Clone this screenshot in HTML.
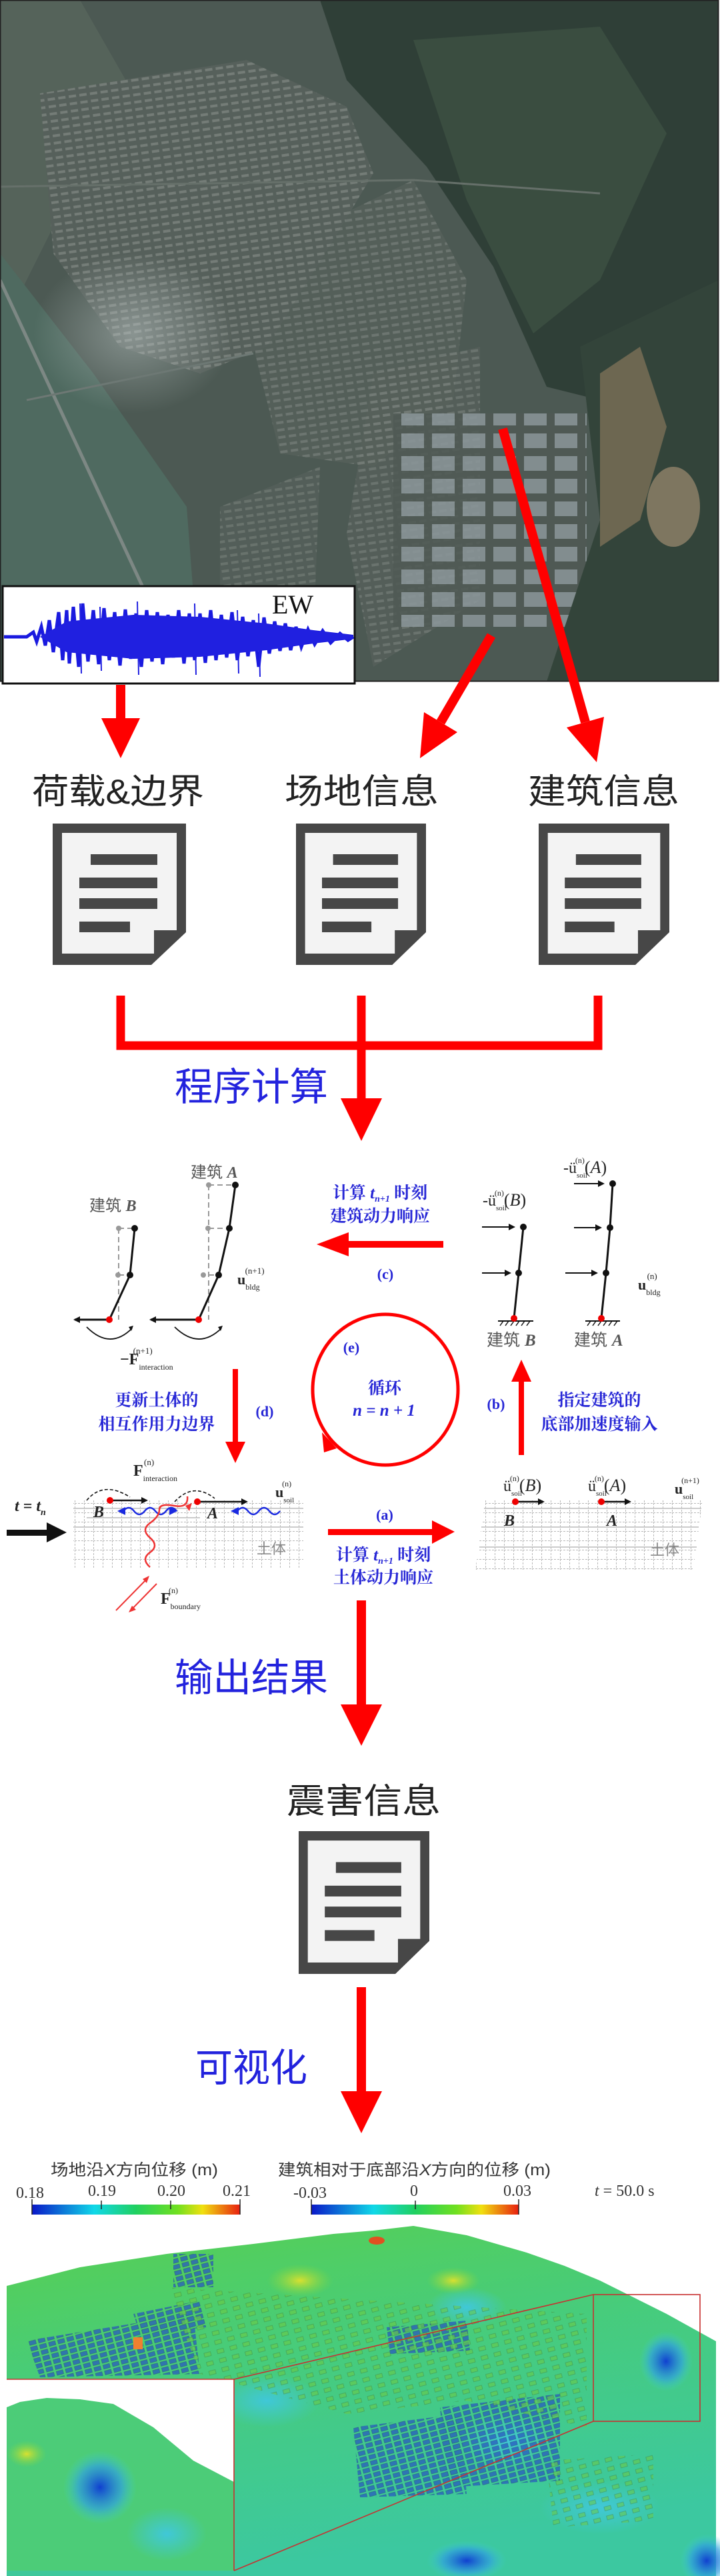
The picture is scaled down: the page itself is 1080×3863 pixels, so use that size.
<!DOCTYPE html>
<html><head><meta charset="utf-8"><style>
html,body{margin:0;padding:0;background:#fff;}
svg{display:block;}
.cn{font-family:"Liberation Sans","Noto Sans CJK SC",sans-serif;}
.bl{font-family:"Liberation Serif","Noto Serif CJK SC","Noto Sans CJK SC",serif;fill:#2626d6;font-weight:bold;}
.m{font-family:"Liberation Serif",serif;fill:#222;}
</style></head><body>
<svg width="1080" height="3863" viewBox="0 0 1080 3863" xmlns="http://www.w3.org/2000/svg">
<defs>
 <pattern id="city" width="16" height="11" patternUnits="userSpaceOnUse" patternTransform="rotate(-8)">
  <rect width="16" height="11" fill="#56605b"/>
  <rect x="2" y="2" width="11" height="4" fill="#747c77"/>
 </pattern>
 <pattern id="ind" width="46" height="34" patternUnits="userSpaceOnUse">
  <rect width="46" height="34" fill="#4f5954"/>
  <rect x="4" y="4" width="34" height="22" fill="#8b969a"/>
 </pattern>
 <radialGradient id="haze"><stop offset="0" stop-color="#c9d3d3" stop-opacity="0.45"/><stop offset="1" stop-color="#c9d3d3" stop-opacity="0"/></radialGradient>
 <linearGradient id="cbar" x1="0" x2="1" y1="0" y2="0">
  <stop offset="0" stop-color="#0a18c8"/><stop offset="0.3" stop-color="#10d8e8"/><stop offset="0.5" stop-color="#20d060"/><stop offset="0.7" stop-color="#70e020"/><stop offset="0.82" stop-color="#f0e010"/><stop offset="1" stop-color="#e82010"/>
 </linearGradient>
 <linearGradient id="terr" x1="0" y1="0" x2="0.3" y2="1">
  <stop offset="0" stop-color="#58d050"/><stop offset="0.4" stop-color="#48cc78"/><stop offset="1" stop-color="#3cc8a0"/>
 </linearGradient>
 <radialGradient id="bb"><stop offset="0" stop-color="#1040d0"/><stop offset="0.6" stop-color="#30a0e0" stop-opacity="0.7"/><stop offset="1" stop-color="#40d0d0" stop-opacity="0"/></radialGradient>
 <radialGradient id="yb"><stop offset="0" stop-color="#d8e030"/><stop offset="1" stop-color="#80d840" stop-opacity="0"/></radialGradient>
 <radialGradient id="cb"><stop offset="0" stop-color="#40c8d8"/><stop offset="1" stop-color="#40c8d8" stop-opacity="0"/></radialGradient>
 <pattern id="bldB" width="14" height="9" patternUnits="userSpaceOnUse" patternTransform="rotate(-15)">
  <rect width="14" height="9" fill="none"/><rect x="1" y="1" width="10" height="6" fill="#2858c0" stroke="#204080" stroke-width="0.6"/>
 </pattern>
 <pattern id="bldG" width="20" height="14" patternUnits="userSpaceOnUse" patternTransform="rotate(-15)">
  <rect width="20" height="14" fill="none"/><rect x="2" y="2" width="10" height="6" fill="#70c840" stroke="#3a6a30" stroke-width="0.6"/>
 </pattern>
 <pattern id="grid" width="14" height="14" patternUnits="userSpaceOnUse">
  <path d="M0 0.5H14M0.5 0V14" stroke="#b8b8b8" stroke-width="1" stroke-dasharray="3 2" fill="none"/>
 </pattern>
 <g id="doc">
  <polygon points="0,0 200,0 200,163 148,212 0,212" fill="#474747"/>
  <polygon points="14,14 186,14 186,160 152,160 152,195 14,195" fill="#f3f3f3"/>
  <rect x="57" y="46" width="100" height="16" fill="#474747"/>
  <rect x="40" y="81" width="117" height="16" fill="#474747"/>
  <rect x="40" y="112" width="117" height="16" fill="#474747"/>
  <rect x="40" y="147" width="76" height="16" fill="#474747"/>
 </g>
</defs>

<!-- Satellite -->
<rect x="0" y="0" width="1078" height="1022" fill="#4c5953"/>
<polygon points="0,0 120,0 200,140 100,300 0,500" fill="#55635a"/>
<polygon points="0,380 140,560 280,760 300,1022 0,1022" fill="#4f6a60"/>
<polygon points="60,140 370,90 520,160 560,260 500,360 400,520 300,560 180,520 80,380" fill="url(#city)"/>
<polygon points="350,400 620,270 700,420 680,600 560,700 420,680" fill="url(#city)" opacity="0.8"/>
<polygon points="560,560 720,520 720,900 560,1000 520,800" fill="url(#city)" opacity="0.75"/>
<polygon points="330,760 480,700 470,960 380,1000 330,900" fill="url(#city)" opacity="0.7"/>
<rect x="590" y="620" width="290" height="320" fill="url(#ind)" opacity="0.85"/>
<polygon points="480,0 1078,0 1078,480 900,600 820,580 740,400 640,250 520,120" fill="#2f3f37"/>
<polygon points="620,60 900,40 1000,200 900,420 800,500 700,300" fill="#3a4d40"/>
<polygon points="870,520 1078,420 1078,1022 820,1022 900,780" fill="#33443a"/>
<polygon points="900,560 960,520 1000,640 960,780 900,820" fill="#a88a68" opacity="0.5"/>
<ellipse cx="1010" cy="760" rx="40" ry="60" fill="#b0987a" opacity="0.6"/>
<ellipse cx="200" cy="500" rx="150" ry="120" fill="url(#haze)"/>
<path d="M0 420 L280 1022" stroke="#7d8884" stroke-width="5"/>
<path d="M40 600 L380 530" stroke="#6d7874" stroke-width="3"/>
<path d="M0 280 L620 270 L900 290" stroke="#66706a" stroke-width="3" fill="none"/>
<rect x="0.5" y="0.5" width="1077" height="1021" fill="none" stroke="#222" stroke-width="2"/>

<!-- EW waveform box -->
<rect x="4" y="879" width="528" height="146" fill="#fff" stroke="#111" stroke-width="3"/>
<path d="M6 955 L40 955 L50 948 L55 962 L62 940 L68 968 L74 930 L80 978 L88 918 L94 990 L100 915 L104 995 L110 910 L118 1000 L124 905 L132 992 L140 915 L148 996 L156 912 L164 990 L172 918 L180 998 L188 914 L196 988 L204 920 L212 1000 L220 915 L228 992 L236 918 L244 996 L252 922 L260 986 L268 915 L276 995 L284 920 L292 990 L300 920 L308 994 L316 915 L324 990 L332 922 L340 986 L348 918 L356 990 L364 925 L372 984 L380 930 L388 1000 L396 926 L404 980 L412 932 L420 976 L428 935 L436 975 L444 940 L452 970 L462 944 L472 966 L484 946 L496 964 L510 950 L522 960 L530 955" stroke="#1a1adf" stroke-width="5" fill="none"/>
<path d="M60 955 L100 932 L200 922 L300 925 L400 935 L470 945 L530 952 L530 958 L470 965 L400 975 L300 985 L200 988 L100 978 L60 955Z" fill="#2020e0"/>
<path d="M120 905 L122 1010 M206 902 L208 1012 M292 905 L294 1012 M356 915 L358 1010 M388 920 L390 1015 M150 910 L152 1006" stroke="#2020e0" stroke-width="2"/>
<text x="408" y="920" font-family="Liberation Serif,serif" font-size="40" fill="#111">EW</text>

<!-- Top arrows -->
<g fill="#f00" stroke="none">
 <rect x="174" y="1027" width="14" height="52"/>
 <polygon points="152,1077 210,1077 181,1137"/>
 <polygon points="686,1098 636,1068 630,1137"/>
 <polygon points="906,1075 850,1091 895,1143"/>
</g>
<line x1="737" y1="953" x2="661" y2="1083" stroke="#f00" stroke-width="14"/>
<line x1="754" y1="643" x2="878" y2="1083" stroke="#f00" stroke-width="14"/>

<!-- labels -->
<g class="cn" font-size="52" fill="#222">
 <text x="48" y="1205" textLength="258" lengthAdjust="spacingAndGlyphs">荷载&amp;边界</text>
 <text x="427" y="1205" textLength="231" lengthAdjust="spacingAndGlyphs">场地信息</text>
 <text x="792" y="1205" textLength="227" lengthAdjust="spacingAndGlyphs">建筑信息</text>
</g>
<use href="#doc" transform="translate(79,1235)"/>
<use href="#doc" transform="translate(444,1235) scale(0.975,1)"/>
<use href="#doc" transform="translate(808,1235) scale(0.98,1)"/>

<!-- bracket -->
<g stroke="#f00" stroke-width="13" fill="none">
 <path d="M181 1493 V1568 H897 V1493"/>
 <path d="M542 1493 V1650"/>
</g>
<polygon points="511,1647 573,1647 542,1711" fill="#f00"/>
<text class="cn" x="262" y="1650" font-size="58" fill="#2222dd" textLength="230" lengthAdjust="spacingAndGlyphs">程序计算</text>

<!-- Loop diagram: left buildings -->
<g class="cn" font-size="24" fill="#555">
 <text x="134" y="1816">建筑 <tspan font-family="Liberation Serif,serif" font-style="italic" font-weight="bold">B</tspan></text>
 <text x="286" y="1766">建筑 <tspan font-family="Liberation Serif,serif" font-style="italic" font-weight="bold">A</tspan></text>
</g>
<g stroke="#999" stroke-width="2" stroke-dasharray="8 5" fill="none">
 <path d="M178 1842 V1979"/><path d="M313 1777 V1979"/>
 <path d="M178 1842 H202 M178 1912 H195 M313 1777 H353 M313 1842 H344 M313 1912 H328"/>
</g>
<g fill="#999"><circle cx="178" cy="1842" r="4"/><circle cx="177" cy="1912" r="4"/><circle cx="313" cy="1777" r="4"/><circle cx="312" cy="1842" r="4"/><circle cx="305" cy="1912" r="4"/></g>
<g stroke="#111" stroke-width="3" fill="none">
 <path d="M202 1842 L195 1912 L164 1979"/>
 <path d="M353 1777 L344 1842 L328 1912 L298 1979"/>
 <path d="M164 1979 H112 M298 1979 H226"/>
 <path d="M130 1990 Q165 2025 198 1992" stroke-width="1.8"/>
 <path d="M262 1990 Q298 2025 332 1992" stroke-width="1.8"/>
</g>
<g fill="#111"><circle cx="202" cy="1842" r="5"/><circle cx="195" cy="1912" r="5"/><circle cx="353" cy="1777" r="5"/><circle cx="344" cy="1842" r="5"/><circle cx="328" cy="1912" r="5"/>
 <polygon points="110,1979 120,1974 120,1984"/><polygon points="224,1979 234,1974 234,1984"/>
 <polygon points="200,1988 193,1990 197,1996"/><polygon points="334,1988 327,1990 331,1996"/></g>
<g fill="#e00"><circle cx="164" cy="1979" r="5"/><circle cx="298" cy="1979" r="5"/></g>
<text class="m" x="356" y="1926" font-size="22" font-weight="bold">u<tspan font-size="12" dy="8" font-weight="normal">bldg</tspan><tspan font-size="13" dx="-22" dy="-24" font-weight="normal">(n+1)</tspan></text>
<text class="m" x="180" y="2046" font-size="24" font-weight="bold">−F<tspan font-size="12" dy="8" font-weight="normal">interaction</tspan><tspan font-size="13" dx="-60" dy="-24" font-weight="normal">(n+1)</tspan></text>

<!-- (c) -->
<text class="bl" x="570" y="1797" font-size="25" text-anchor="middle">计算 <tspan font-style="italic">t</tspan><tspan font-size="14" dy="5" font-style="italic">n+1</tspan><tspan dy="-5"> 时刻</tspan></text>
<text class="bl" x="570" y="1832" font-size="25" text-anchor="middle">建筑动力响应</text>
<rect x="521" y="1861" width="144" height="10" fill="#f00"/>
<polygon points="523,1848 523,1884 475,1866" fill="#f00"/>
<text class="bl" x="578" y="1918" font-size="22" text-anchor="middle">(c)</text>

<!-- right buildings -->
<g stroke="#111" stroke-width="3" fill="none">
 <path d="M785 1840 L778 1909 L771 1977"/>
 <path d="M919 1775 L915 1841 L909 1909 L902 1977"/>
 <path d="M723 1840 H766 M723 1909 H760 M861 1775 H900 M861 1841 H896 M848 1909 H890" stroke-width="2"/>
 <path d="M747 1981 H800 M878 1981 H930" stroke-width="2"/>
 <path d="M750 1988 l5 -7 M758 1988 l5 -7 M766 1988 l5 -7 M774 1988 l5 -7 M782 1988 l5 -7 M790 1988 l5 -7 M881 1988 l5 -7 M889 1988 l5 -7 M897 1988 l5 -7 M905 1988 l5 -7 M913 1988 l5 -7 M921 1988 l5 -7" stroke-width="1.5"/>
</g>
<g fill="#111">
 <circle cx="785" cy="1840" r="5"/><circle cx="778" cy="1909" r="5"/><circle cx="919" cy="1775" r="5"/><circle cx="915" cy="1841" r="5"/><circle cx="909" cy="1909" r="5"/>
 <polygon points="773,1840 763,1835 763,1845"/><polygon points="767,1909 757,1904 757,1914"/><polygon points="907,1775 897,1770 897,1780"/><polygon points="903,1841 893,1836 893,1846"/><polygon points="897,1909 887,1904 887,1914"/>
</g>
<g fill="#e00"><circle cx="771" cy="1977" r="5"/><circle cx="902" cy="1977" r="5"/></g>
<text class="m" x="724" y="1808" font-size="24">-ü<tspan font-size="11" dy="7">soil</tspan><tspan font-size="12" dx="-18" dy="-22">(n)</tspan><tspan dy="15" font-size="26">(<tspan font-style="italic">B</tspan>)</tspan></text>
<text class="m" x="845" y="1759" font-size="24">-ü<tspan font-size="11" dy="7">soil</tspan><tspan font-size="12" dx="-18" dy="-22">(n)</tspan><tspan dy="15" font-size="26">(<tspan font-style="italic">A</tspan>)</tspan></text>
<text class="m" x="957" y="1934" font-size="22" font-weight="bold">u<tspan font-size="12" dy="8" font-weight="normal">bldg</tspan><tspan font-size="13" dx="-20" dy="-24" font-weight="normal">(n)</tspan></text>
<g class="cn" font-size="25" fill="#555">
 <text x="730" y="2018">建筑 <tspan font-family="Liberation Serif,serif" font-style="italic" font-weight="bold">B</tspan></text>
 <text x="861" y="2018">建筑 <tspan font-family="Liberation Serif,serif" font-style="italic" font-weight="bold">A</tspan></text>
</g>

<!-- circle (e) -->
<ellipse cx="578" cy="2084" rx="109" ry="113" fill="none" stroke="#f00" stroke-width="5"/>
<polygon points="483,2148 505,2172 486,2178" fill="#f00"/>
<text class="bl" x="527" y="2028" font-size="22" text-anchor="middle">(e)</text>
<text class="bl" x="577" y="2090" font-size="25" text-anchor="middle">循环</text>
<text class="bl" x="576" y="2123" font-size="25" text-anchor="middle" font-style="italic">n = n + 1</text>

<!-- (d) -->
<rect x="349" y="2053" width="8" height="112" fill="#f00"/>
<polygon points="338,2162 368,2162 353,2194" fill="#f00"/>
<text class="bl" x="235" y="2108" font-size="25" text-anchor="middle">更新土体的</text>
<text class="bl" x="235" y="2144" font-size="25" text-anchor="middle">相互作用力边界</text>
<text class="bl" x="397" y="2124" font-size="22" text-anchor="middle">(d)</text>

<!-- (b) -->
<rect x="778" y="2070" width="8" height="112" fill="#f00"/>
<polygon points="767,2072 797,2072 782,2039" fill="#f00"/>
<text class="bl" x="744" y="2113" font-size="22" text-anchor="middle">(b)</text>
<text class="bl" x="899" y="2108" font-size="25" text-anchor="middle">指定建筑的</text>
<text class="bl" x="899" y="2144" font-size="25" text-anchor="middle">底部加速度输入</text>

<!-- left soil -->
<rect x="110" y="2249" width="345" height="103" fill="url(#grid)"/>
<path d="M110 2262 H455 M110 2290 H455 M130 2276 H300" stroke="#bbb" stroke-width="1.5"/>
<text class="cn" x="385" y="2330" font-size="22" fill="#888">土体</text>
<text class="m" x="22" y="2266" font-size="24" font-style="italic" font-weight="bold">t = t<tspan font-size="14" dy="6">n</tspan></text>
<rect x="10" y="2294" width="62" height="9" fill="#111"/>
<polygon points="70,2283 70,2313 100,2298" fill="#111"/>
<text class="m" x="200" y="2213" font-size="24" font-weight="bold">F<tspan font-size="12" dy="8" font-weight="normal">interaction</tspan><tspan font-size="13" dx="-50" dy="-24" font-weight="normal">(n)</tspan></text>
<text class="m" x="413" y="2245" font-size="22" font-weight="bold">u<tspan font-size="11" dy="8" font-weight="normal">soil</tspan><tspan font-size="12" dx="-18" dy="-24" font-weight="normal">(n)</tspan></text>
<g stroke="#111" stroke-width="1.6" fill="none" stroke-dasharray="5 3">
 <path d="M130 2250 Q155 2220 195 2245"/><path d="M262 2252 Q290 2222 322 2247"/>
</g>
<g stroke="#111" stroke-width="2.5"><path d="M165 2250 H218 M296 2252 H368"/></g>
<g fill="#111"><polygon points="222,2250 212,2245 212,2255"/><polygon points="372,2252 362,2247 362,2257"/></g>
<g fill="#e00"><circle cx="165" cy="2250" r="5"/><circle cx="296" cy="2252" r="5"/></g>
<text class="m" x="140" y="2275" font-size="24" font-style="italic" font-weight="bold">B</text>
<text class="m" x="311" y="2277" font-size="24" font-style="italic" font-weight="bold">A</text>
<path d="M185 2266 q8 -10 16 0 t16 0 t16 0 t16 0 t16 0" stroke="#1a2ae0" stroke-width="2.5" fill="none"/>
<polygon points="176,2266 188,2260 188,2272" fill="#1a2ae0"/><polygon points="266,2266 254,2260 254,2272" fill="#1a2ae0"/>
<path d="M356 2266 q8 -10 16 0 t16 0 t16 0 t16 0" stroke="#1a2ae0" stroke-width="2.5" fill="none"/>
<polygon points="346,2266 358,2260 358,2272" fill="#1a2ae0"/>
<path d="M225 2350 q-14 -12 0 -22 t0 -22 t0 -22 t14 -20 t22 -6 t20 -14" stroke="#e33" stroke-width="2.5" fill="none"/>
<polygon points="288,2254 278,2258 284,2266" fill="#e33"/>
<path d="M174 2415 L222 2366" stroke="#e33" stroke-width="2"/><polygon points="224,2363 214,2368 220,2374" fill="#e33"/>
<path d="M235 2375 L195 2416" stroke="#e33" stroke-width="2"/><polygon points="193,2418 198,2408 204,2414" fill="#e33"/>
<text class="m" x="241" y="2405" font-size="24" font-weight="bold">F<tspan font-size="12" dy="8" font-weight="normal">boundary</tspan><tspan font-size="12" dx="-48" dy="-24" font-weight="normal">(n)</tspan></text>

<!-- (a) -->
<rect x="492" y="2293" width="158" height="9" fill="#f00"/>
<polygon points="648,2280 648,2315 682,2297" fill="#f00"/>
<text class="bl" x="577" y="2279" font-size="22" text-anchor="middle">(a)</text>
<text class="bl" x="575" y="2340" font-size="25" text-anchor="middle">计算 <tspan font-style="italic">t</tspan><tspan font-size="14" dy="5" font-style="italic">n+1</tspan><tspan dy="-5"> 时刻</tspan></text>
<text class="bl" x="575" y="2374" font-size="25" text-anchor="middle">土体动力响应</text>

<!-- right soil -->
<polygon points="728,2249 1054,2249 1040,2354 713,2354" fill="url(#grid)"/>
<path d="M726 2262 H1052 M722 2290 H1048 M719 2320 H1045" stroke="#bbb" stroke-width="1.5"/>
<text class="cn" x="975" y="2332" font-size="22" fill="#888">土体</text>
<g stroke="#111" stroke-width="2.5"><path d="M773 2252 H812 M902 2252 H942"/></g>
<g fill="#111"><polygon points="817,2252 807,2247 807,2257"/><polygon points="947,2252 937,2247 937,2257"/></g>
<g fill="#e00"><circle cx="773" cy="2252" r="5"/><circle cx="902" cy="2252" r="5"/></g>
<text class="m" x="755" y="2236" font-size="24">ü<tspan font-size="11" dy="7">soil</tspan><tspan font-size="12" dx="-18" dy="-22">(n)</tspan><tspan dy="15" font-size="26">(<tspan font-style="italic">B</tspan>)</tspan></text>
<text class="m" x="882" y="2236" font-size="24">ü<tspan font-size="11" dy="7">soil</tspan><tspan font-size="12" dx="-18" dy="-22">(n)</tspan><tspan dy="15" font-size="26">(<tspan font-style="italic">A</tspan>)</tspan></text>
<text class="m" x="1012" y="2240" font-size="22" font-weight="bold">u<tspan font-size="11" dy="8" font-weight="normal">soil</tspan><tspan font-size="12" dx="-18" dy="-24" font-weight="normal">(n+1)</tspan></text>
<text class="m" x="756" y="2288" font-size="24" font-style="italic" font-weight="bold">B</text>
<text class="m" x="910" y="2288" font-size="24" font-style="italic" font-weight="bold">A</text>

<!-- output arrow -->
<rect x="535" y="2400" width="14" height="158" fill="#f00"/>
<polygon points="511,2556 573,2556 542,2618" fill="#f00"/>
<text class="cn" x="262" y="2536" font-size="58" fill="#2222dd" textLength="230" lengthAdjust="spacingAndGlyphs">输出结果</text>
<text class="cn" x="430" y="2719" font-size="52" fill="#222" textLength="231" lengthAdjust="spacingAndGlyphs">震害信息</text>
<use href="#doc" transform="translate(448,2746) scale(0.98,1.01)"/>
<rect x="535" y="2980" width="14" height="158" fill="#f00"/>
<polygon points="511,3136 573,3136 542,3199" fill="#f00"/>
<text class="cn" x="293" y="3121" font-size="58" fill="#2222dd" textLength="168" lengthAdjust="spacingAndGlyphs">可视化</text>

<!-- colorbars -->
<g class="cn" font-size="24" fill="#333">
 <text x="76" y="3262" textLength="251" lengthAdjust="spacingAndGlyphs">场地沿<tspan font-style="italic">X</tspan>方向位移 (m)</text>
 <text x="417" y="3262" textLength="409" lengthAdjust="spacingAndGlyphs">建筑相对于底部沿<tspan font-style="italic">X</tspan>方向的位移 (m)</text>
</g>
<g font-family="Liberation Serif,serif" font-size="24" fill="#333">
 <text x="24" y="3296">0.18</text><text x="132" y="3293">0.19</text><text x="236" y="3293">0.20</text><text x="334" y="3293">0.21</text>
 <text x="440" y="3296">-0.03</text><text x="615" y="3293">0</text><text x="755" y="3293">0.03</text>
 <text x="892" y="3293"><tspan font-style="italic">t</tspan> = 50.0 s</text>
</g>
<rect x="48" y="3306" width="312" height="15" fill="url(#cbar)"/>
<rect x="467" y="3306" width="311" height="15" fill="url(#cbar)"/>
<g stroke="#222" stroke-width="1.5"><path d="M48 3298 V3321 M152 3300 V3313 M256 3300 V3313 M360 3298 V3321 M467 3298 V3321 M623 3300 V3313 M778 3298 V3321"/></g>

<!-- 3D terrain -->
<polygon points="10,3428 120,3400 250,3380 380,3365 500,3350 560,3345 620,3338 700,3352 790,3378 847,3398 900,3420 1000,3470 1074,3511 1074,3863 10,3863" fill="url(#terr)"/>
<g>
 <ellipse cx="565" cy="3360" rx="12" ry="6" fill="#e05020"/>
 <ellipse cx="999" cy="3541" rx="40" ry="45" fill="url(#bb)"/>
 <ellipse cx="700" cy="3460" rx="60" ry="30" fill="url(#cb)"/>
 <ellipse cx="450" cy="3420" rx="50" ry="25" fill="url(#yb)"/>
 <ellipse cx="680" cy="3420" rx="40" ry="20" fill="url(#yb)"/>
 <ellipse cx="400" cy="3600" rx="80" ry="40" fill="url(#cb)"/>
 <ellipse cx="760" cy="3660" rx="70" ry="40" fill="url(#cb)"/>
 <ellipse cx="700" cy="3840" rx="60" ry="30" fill="url(#bb)"/>
 <ellipse cx="1060" cy="3840" rx="40" ry="40" fill="url(#bb)"/>
 <ellipse cx="900" cy="3760" rx="90" ry="40" fill="url(#cb)"/>
</g>
<g opacity="0.75">
<polygon points="40,3510 290,3470 300,3560 60,3565" fill="url(#bldB)"/>
<polygon points="200,3470 300,3450 310,3490 210,3500" fill="url(#bldB)"/>
<polygon points="530,3640 690,3620 700,3740 540,3745" fill="url(#bldB)"/>
<polygon points="580,3490 700,3480 705,3525 585,3530" fill="url(#bldB)"/>
<polygon points="660,3610 840,3590 840,3720 670,3730" fill="url(#bldB)"/>
<polygon points="250,3430 560,3450 880,3470 880,3640 700,3600 520,3620 300,3560" fill="url(#bldG)" opacity="0.7"/>
<polygon points="820,3690 980,3680 980,3780 830,3790" fill="url(#bldG)" opacity="0.7"/>
<polygon points="260,3380 320,3380 320,3430 260,3430" fill="url(#bldB)"/>
</g>
<rect x="200" y="3505" width="14" height="18" fill="#f08030"/>
<!-- inset -->
<rect x="10" y="3568" width="341" height="287" fill="#4ccc78"/>
<ellipse cx="150" cy="3730" rx="55" ry="55" fill="url(#bb)"/>
<ellipse cx="40" cy="3680" rx="30" ry="20" fill="url(#yb)"/>
<ellipse cx="250" cy="3800" rx="60" ry="40" fill="url(#cb)"/>
<polygon points="10,3568 351,3568 351,3722 290,3690 230,3640 170,3605 120,3598 70,3596 30,3602 10,3610" fill="#fff"/>
<g stroke="#c83030" stroke-width="1.6" fill="none">
 <path d="M10 3568 H351 V3855"/>
 <path d="M351 3568 L890 3441 M351 3855 L890 3631"/>
 <rect x="890" y="3441" width="160" height="190"/>
</g>
</svg>
</body></html>
